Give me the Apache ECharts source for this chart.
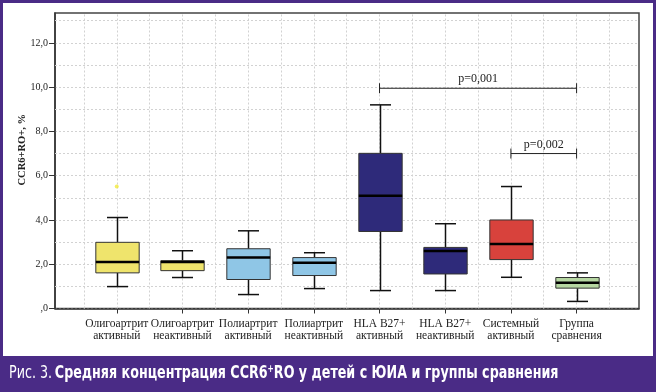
<!DOCTYPE html>
<html><head><meta charset="utf-8">
<script src="https://cdn.jsdelivr.net/npm/echarts@6/dist/echarts.min.js"></script>
<style>html,body{margin:0;padding:0;background:#fff}#c{width:656px;height:392px}</style>
</head><body><div id="c"></div>
<script>
// ---- data ----
const categories = ['Олигоартрит\nактивный', 'Олигоартрит\nнеактивный', 'Полиартрит\nактивный', 'Полиартрит\nнеактивный', 'HLA B27+\nактивный', 'HLA B27+\nнеактивный', 'Системный\nактивный', 'Группа\nсравнения'];
const whiskerLow  = [0.99, 1.40, 0.63, 0.90, 0.81, 0.81, 1.41, 0.32];
const q1          = [1.61, 1.71, 1.31, 1.49, 3.48, 1.56, 2.21, 0.92];
const median      = [2.10, 2.10, 2.30, 2.07, 5.09, 2.60, 2.91, 1.16];
const q3          = [2.99, 2.16, 2.70, 2.30, 7.01, 2.76, 4.00, 1.40];
const whiskerHigh = [4.11, 2.61, 3.51, 2.52, 9.20, 3.83, 5.51, 1.61];
const outlierCat  = [0];
const outlierVal  = [5.51];
const yTicks = [0, 2, 4, 6, 8, 10, 12];
const yMinorLines = [1, 3, 5, 7, 9, 11, 13];
const xGridLines = [-0.5, 0, 0.5, 1, 1.5, 2, 2.5, 3, 3.5, 4, 4.5, 5, 5.5, 6, 6.5, 7, 7.5];
const bracketFrom  = [4, 6];
const bracketTo    = [7, 7];
const bracketY     = [9.95, 7.0];
const bracketLabel = ['p=0,001', 'p=0,002'];
const boxColors = ['#EFE46C', '#EFE46C', '#8FC6E6', '#8FC6E6', '#2E2A7A', '#2E2A7A', '#D8423C', '#B5D6A1'];
// ---- chart ----
const chart = echarts.init(document.getElementById('c'), null, {renderer: 'canvas'});
const serif = '"Liberation Serif", "DejaVu Serif", serif';
const capFont = '"Liberation Sans Narrow", "DejaVu Sans Condensed", "Roboto", sans-serif';
const boxData = categories.map((c, i) => [i, whiskerLow[i], q1[i], median[i], q3[i], whiskerHigh[i]]);
const gridStyle = {type: [2, 2], color: '#d2d2d2', width: 1};
chart.setOption({
  backgroundColor: '#fff',
  animation: false,
  graphic: [
    {type: 'rect', z: -10, silent: true, shape: {x: 0, y: 356, width: 656, height: 36}, style: {fill: '#4A2B86'}},
    {type: 'rect', z: -10, silent: true, shape: {x: 1.5, y: 1.5, width: 653, height: 389}, style: {fill: 'none', stroke: '#4A2B86', lineWidth: 3}},
    {type: 'text', z: 10, silent: true, x: 9, y: 374, scaleX: 0.83, originX: 0,
      style: {
        text: '{a|Рис. 3.} {b|Средняя концентрация CCR6}{s|+}{b|RO у детей с ЮИА и группы сравнения}',
        verticalAlign: 'middle', align: 'left',
        rich: {
          a: {fill: '#fff', fontSize: 17, fontFamily: capFont, fontWeight: 'normal', lineHeight: 20},
          b: {fill: '#fff', fontSize: 17, fontFamily: capFont, fontWeight: 'bold', lineHeight: 20},
          s: {fill: '#fff', fontSize: 10, fontFamily: capFont, fontWeight: 'bold', verticalAlign: 'top', lineHeight: 20}
        }
      }
    }
  ],
  grid: {left: 55, right: 17, top: 13, bottom: 83.5, show: true, borderColor: '#444', borderWidth: 1.5, backgroundColor: '#fff'},
  xAxis: {
    type: 'value', min: -0.94, max: 7.95,
    axisLine: {show: true, onZero: false, lineStyle: {color: '#333', width: 1.5}},
    axisTick: {show: true, customValues: [0, 1, 2, 3, 4, 5, 6, 7], length: 5, lineStyle: {color: '#333', width: 1}},
    axisLabel: {customValues: [0, 1, 2, 3, 4, 5, 6, 7], formatter: v => categories[Math.round(v)], fontFamily: serif, fontSize: 11.5, lineHeight: 12, color: '#222', margin: 9},
    splitLine: {show: false}
  },
  yAxis: {
    type: 'value', min: 0, max: 13.35,
    name: 'CCR6+RO+, %', nameLocation: 'middle', nameGap: 27, nameMoveOverlap: false,
    nameTextStyle: {fontFamily: serif, fontSize: 10.5, fontWeight: 'bold', color: '#222', padding: [0, 0, 0, 22]},
    axisLine: {show: true, onZero: false, lineStyle: {color: '#333', width: 1.5}},
    axisTick: {show: true, customValues: yTicks, length: 6, lineStyle: {color: '#333'}},
    axisLabel: {customValues: yTicks, formatter: v => v === 0 ? ',0' : v.toFixed(1).replace('.', ','), fontFamily: serif, fontSize: 10, color: '#222', margin: 7},
    splitLine: {show: true, lineStyle: gridStyle}
  },
  series: [
    {
      type: 'custom', z: 3, data: boxData,
      encode: {x: 0, y: [1, 2, 3, 4, 5]},
      renderItem: function (params, api) {
        const i = api.value(0);
        const lo = api.coord([i, api.value(1)]);
        const b = api.coord([i, api.value(2)]);
        const m = api.coord([i, api.value(3)]);
        const t = api.coord([i, api.value(4)]);
        const hi = api.coord([i, api.value(5)]);
        const unit = api.size([1, 0])[0];
        const bw = unit * 0.66, cw = unit * 0.32;
        const x = Math.round(lo[0]) + 0.5;
        const ws = {stroke: '#111', lineWidth: 1.5};
        return {type: 'group', children: [
          {type: 'line', shape: {x1: x, y1: hi[1], x2: x, y2: t[1]}, style: ws},
          {type: 'line', shape: {x1: x, y1: b[1], x2: x, y2: lo[1]}, style: ws},
          {type: 'line', shape: {x1: x - cw / 2, y1: hi[1], x2: x + cw / 2, y2: hi[1]}, style: ws},
          {type: 'line', shape: {x1: x - cw / 2, y1: lo[1], x2: x + cw / 2, y2: lo[1]}, style: ws},
          {type: 'rect', shape: {x: x - bw / 2, y: t[1], width: bw, height: b[1] - t[1]}, style: {fill: boxColors[params.dataIndex], stroke: '#333', lineWidth: 1}},
          {type: 'line', shape: {x1: x - bw / 2, y1: m[1], x2: x + bw / 2, y2: m[1]}, style: {stroke: '#000', lineWidth: 2.5}}
        ]};
      },
      markLine: {
        silent: true, symbol: 'none', z: 1, label: {show: false}, lineStyle: gridStyle,
        data: xGridLines.map(v => ({xAxis: v})).concat(yMinorLines.map(v => ({yAxis: v})))
      }
    },
    {
      type: 'scatter', z: 4, symbol: 'circle', symbolSize: 4,
      itemStyle: {color: '#F2EA3A'},
      data: outlierCat.map((c, i) => [c, outlierVal[i]])
    },
    {
      type: 'custom', z: 4,
      data: bracketFrom.map((f, i) => [f, bracketTo[i], bracketY[i]]),
      encode: {x: [0, 1], y: 2},
      renderItem: function (params, api) {
        const a = api.coord([api.value(0), api.value(2)]);
        const b = api.coord([api.value(1), api.value(2)]);
        const s = {stroke: '#222', lineWidth: 1};
        return {type: 'group', children: [
          {type: 'line', shape: {x1: a[0], y1: a[1], x2: b[0], y2: b[1]}, style: s},
          {type: 'line', shape: {x1: a[0], y1: a[1] - 5, x2: a[0], y2: a[1] + 5}, style: s},
          {type: 'line', shape: {x1: b[0], y1: b[1] - 5, x2: b[0], y2: b[1] + 5}, style: s},
          {type: 'text', x: (a[0] + b[0]) / 2, y: a[1] - 3, style: {text: bracketLabel[params.dataIndex], fontFamily: serif, fontSize: 12, fill: '#222', align: 'center', verticalAlign: 'bottom'}}
        ]};
      }
    }
  ]
});
</script></body></html>
